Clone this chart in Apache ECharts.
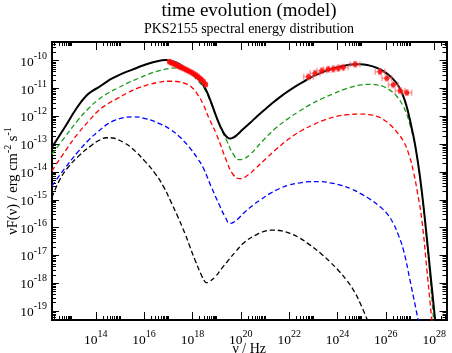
<!DOCTYPE html>
<html>
<head>
<meta charset="utf-8">
<script src="https://cdn.jsdelivr.net/npm/echarts@6/dist/echarts.min.js"></script>
<style>
  html, body { margin: 0; padding: 0; background: #fff; }
  #chart { width: 452px; height: 353px; }
</style>
</head>
<body>
<div id="chart"></div>
<script>
// all values are log10: [log nu (Hz), log nuF(nu) (erg cm^-2 s^-1)]
const totalCurve = [[12.19,-13.11],[12.7,-12.42],[13.2,-11.72],[13.6,-11.27],[13.9,-11.07],[14.11,-10.96],[14.4,-10.79],[14.66,-10.65],[15.0,-10.5],[15.49,-10.33],[16.04,-10.15],[16.59,-10.01],[16.9,-9.98],[17.28,-10.05],[17.7,-10.26],[18.1,-10.55],[18.45,-10.88],[18.73,-11.40],[19.0,-12.04],[19.28,-12.58],[19.45,-12.76],[19.56,-12.80],[19.68,-12.77],[19.83,-12.68],[20.1,-12.46],[20.38,-12.24],[20.7,-11.98],[21.07,-11.70],[21.4,-11.46],[21.76,-11.22],[22.2,-10.96],[22.59,-10.76],[23.0,-10.56],[23.42,-10.40],[23.8,-10.28],[24.24,-10.19],[24.6,-10.14],[24.94,-10.13],[25.3,-10.17],[25.63,-10.26],[25.9,-10.38],[26.18,-10.56],[26.4,-10.76],[26.59,-11.02],[26.78,-11.42],[26.93,-11.88],[27.07,-12.42],[27.21,-13.02],[27.42,-14.22],[27.62,-15.73],[27.83,-17.53],[28.06,-19.5]];
const greenCurve = [[12.19,-13.36],[12.73,-12.74],[13.28,-12.12],[13.7,-11.72],[14.11,-11.40],[14.5,-11.17],[14.94,-10.97],[15.35,-10.79],[15.76,-10.64],[16.2,-10.48],[16.59,-10.37],[17.0,-10.29],[17.42,-10.26],[17.8,-10.36],[18.2,-10.70],[18.5,-11.02],[18.8,-11.60],[19.1,-12.28],[19.42,-12.88],[19.69,-13.36],[19.94,-13.56],[20.15,-13.52],[20.4,-13.36],[20.93,-12.86],[21.4,-12.46],[21.9,-12.12],[22.4,-11.83],[22.87,-11.58],[23.35,-11.37],[23.83,-11.19],[24.25,-11.04],[24.66,-10.93],[25.0,-10.87],[25.35,-10.85],[25.65,-10.87],[25.9,-10.93],[26.2,-11.08],[26.45,-11.28],[26.7,-11.60],[26.87,-11.94],[27.0,-12.30],[27.14,-12.78],[27.28,-13.4],[27.42,-14.22],[27.7,-16.5],[27.99,-19.5]];
const redCurve = [[12.19,-13.96],[12.73,-13.26],[13.28,-12.6],[13.7,-12.18],[14.11,-11.80],[14.5,-11.55],[14.94,-11.34],[15.35,-11.14],[15.76,-10.98],[16.2,-10.86],[16.59,-10.78],[17.0,-10.74],[17.35,-10.75],[17.69,-10.82],[18.0,-10.98],[18.2,-11.2],[18.45,-11.58],[18.7,-12.1],[19.0,-12.66],[19.42,-13.62],[19.69,-14.10],[19.97,-14.24],[20.31,-14.10],[20.6,-13.88],[21.07,-13.50],[21.5,-13.16],[22.04,-12.78],[22.5,-12.52],[23.0,-12.30],[23.5,-12.12],[23.97,-12.0],[24.45,-11.94],[24.94,-11.92],[25.3,-11.94],[25.63,-12.0],[25.9,-12.12],[26.18,-12.30],[26.45,-12.56],[26.73,-12.90],[26.95,-13.36],[27.14,-13.98],[27.3,-14.7],[27.49,-15.73],[27.70,-17.53],[27.92,-19.5]];
const blueCurve = [[12.19,-14.5],[12.73,-13.86],[13.28,-13.26],[13.7,-12.86],[14.11,-12.54],[14.45,-12.3],[14.80,-12.14],[15.15,-12.05],[15.49,-12.02],[16.04,-12.08],[16.73,-12.30],[17.1,-12.48],[17.42,-12.70],[17.7,-12.94],[17.97,-13.22],[18.2,-13.5],[18.45,-13.86],[18.80,-14.58],[19.1,-15.16],[19.35,-15.61],[19.56,-15.85],[19.75,-15.78],[19.90,-15.67],[20.18,-15.43],[20.5,-15.2],[20.80,-15.01],[21.2,-14.78],[21.62,-14.59],[22.0,-14.47],[22.45,-14.39],[22.85,-14.35],[23.28,-14.35],[23.7,-14.39],[24.11,-14.47],[24.55,-14.6],[24.94,-14.77],[25.35,-14.98],[25.76,-15.25],[26.05,-15.5],[26.31,-15.85],[26.52,-16.27],[26.73,-16.81],[27.0,-17.89],[27.38,-19.5]];
const darkCurve = [[12.19,-14.92],[12.5,-14.3],[12.85,-13.84],[13.28,-13.44],[13.83,-13.04],[14.15,-12.86],[14.46,-12.77],[14.7,-12.78],[14.94,-12.85],[15.2,-12.96],[15.49,-13.14],[16.04,-13.62],[16.45,-14.05],[16.80,-14.52],[17.14,-15.13],[17.4,-15.62],[17.69,-16.21],[17.9,-16.7],[18.11,-17.17],[18.39,-17.75],[18.5,-17.92],[18.59,-17.98],[18.7,-17.94],[18.94,-17.77],[19.2,-17.48],[19.49,-17.17],[19.8,-16.85],[20.18,-16.51],[20.66,-16.25],[21.0,-16.13],[21.35,-16.09],[21.7,-16.12],[22.04,-16.21],[22.45,-16.38],[22.87,-16.63],[23.3,-16.92],[23.69,-17.23],[24.05,-17.55],[24.38,-17.89],[24.7,-18.3],[24.94,-18.72],[25.32,-19.5]];

// measured points (X-ray and gamma-ray)
const xrayNu   = [17.05,17.13,17.22,17.30,17.38,17.46,17.55,17.63,17.72,17.80,17.88,17.97,18.05,18.14,18.22,18.30,18.38,18.46,18.55];
const xrayFlux = [-10.04,-10.08,-10.11,-10.14,-10.18,-10.22,-10.25,-10.28,-10.32,-10.35,-10.39,-10.43,-10.47,-10.52,-10.57,-10.63,-10.69,-10.76,-10.86];
const gammaNu   = [22.80,23.07,23.35,23.62,23.83,24.04,24.24,24.73,25.76,26.04,26.31,26.59,26.87];
const gammaFlux = [-10.58,-10.45,-10.36,-10.31,-10.30,-10.27,-10.24,-10.13,-10.40,-10.63,-10.87,-11.08,-11.15];

const xLabelExps = [14,16,18,20,22,24,26,28];
const yLabelExps = [-19,-18,-17,-16,-15,-14,-13,-12,-11,-10];

const X_MIN = 12.19, X_MAX = 28.51;
const Y_MIN = -19.32, Y_MAX = -9.33;
const FONT = 'Liberation Serif';

// log-spaced minor ticks
const xMinor = [];
for (let n = 12; n <= 28; n += 2) {
  for (let k = 2; k <= 10; k++) {
    const v = n + Math.log10(k);
    if (v > X_MIN && v < X_MAX) xMinor.push(v);
  }
}
const yMinor = [];
for (let n = -20; n <= -10; n++) {
  for (let k = 2; k <= 9; k++) {
    const v = n + Math.log10(k);
    if (v > Y_MIN && v < Y_MAX) yMinor.push(v);
  }
}

const powLabel = v => '{b|10}{e|' + Math.round(v) + '}';
const labelRich = {
  b: { fontFamily: FONT, fontSize: 13.5, color: '#000', padding: [3, 0, 0, 0] },
  e: { fontFamily: FONT, fontSize: 10, color: '#000', padding: [0, 0, 9, 0] }
};

function makeAxis(dim, pos, ticks, len, labels) {
  const ax = {
    type: 'value', position: pos,
    min: dim === 'x' ? X_MIN : Y_MIN,
    max: dim === 'x' ? X_MAX : Y_MAX,
    axisLine: { show: true, onZero: false, lineStyle: { color: '#000', width: 2 } },
    axisTick: { show: true, inside: true, length: len, customValues: ticks, lineStyle: { color: '#000', width: 1 } },
    axisLabel: { show: false },
    splitLine: { show: false }
  };
  if (labels) {
    ax.axisLabel = {
      show: true, customValues: labels, formatter: powLabel, rich: labelRich,
      margin: dim === 'x' ? 9 : 5
    };
  }
  return ax;
}

const errorData = [];
xrayNu.forEach((nu, i) => errorData.push([nu, xrayFlux[i], 0.05, 0.07]));
gammaNu.forEach((nu, i) => errorData.push([nu, gammaFlux[i], 0.2, 0.1]));
const pointData = errorData.map(d => [d[0], d[1]]);

function renderErrorBar(params, api) {
  const x = api.value(0), y = api.value(1), dx = api.value(2), dy = api.value(3);
  const l = api.coord([x - dx, y]), r = api.coord([x + dx, y]);
  const t = api.coord([x, y + dy]), b = api.coord([x, y - dy]);
  const style = { stroke: 'rgba(245,90,90,0.55)', lineWidth: 1.5 };
  const seg = (x1, y1, x2, y2) => ({ type: 'line', shape: { x1, y1, x2, y2 }, style });
  return {
    type: 'group',
    children: [
      seg(l[0], l[1], r[0], r[1]),
      seg(t[0], t[1], b[0], b[1]),
      seg(l[0], l[1] - 3, l[0], l[1] + 3),
      seg(r[0], r[1] - 3, r[0], r[1] + 3),
      seg(t[0] - 2, t[1], t[0] + 2, t[1]),
      seg(b[0] - 2, b[1], b[0] + 2, b[1])
    ]
  };
}

function curve(data, color, dashed) {
  return {
    type: 'line', data: data, showSymbol: false, smooth: 0.5,
    clip: true, silent: true,
    lineStyle: { color: color, width: dashed ? 1.3 : 2, type: dashed ? [5, 3] : 'solid' }
  };
}

const chart = echarts.init(document.getElementById('chart'));

chart.setOption({
  animation: false,
  backgroundColor: '#fff',
  title: {
    text: 'time evolution (model)',
    subtext: 'PKS2155 spectral energy distribution',
    left: 249, top: 2, padding: 0, itemGap: 1, textAlign: 'center',
    textStyle: { fontFamily: FONT, fontSize: 19, fontWeight: 'normal', color: '#000' },
    subtextStyle: { fontFamily: FONT, fontSize: 14, color: '#000' }
  },
  grid: { left: 52, right: 5.5, top: 42, bottom: 33, containLabel: false, outerBoundsMode: 'none' },
  xAxis: [
    Object.assign(makeAxis('x', 'bottom', xLabelExps, 8, xLabelExps), {
      name: 'ν / Hz', nameLocation: 'middle', nameGap: 22, nameMoveOverlap: false,
      nameTextStyle: { fontFamily: FONT, fontSize: 14, color: '#000' }
    }),
    makeAxis('x', 'bottom', xMinor, 4),
    makeAxis('x', 'top', xLabelExps, 8),
    makeAxis('x', 'top', xMinor, 4)
  ],
  yAxis: [
    Object.assign(makeAxis('y', 'left', yLabelExps, 7, yLabelExps), {
      name: 'νF(ν) / erg cm{s|-2} s{s|-1}', nameLocation: 'middle', nameGap: 29, nameMoveOverlap: false,
      nameTextStyle: {
        fontFamily: FONT, fontSize: 14.5, color: '#000',
        rich: { s: { fontFamily: FONT, fontSize: 10, color: '#000', padding: [0, 0, 10, 0] } }
      }
    }),
    makeAxis('y', 'left', yMinor, 4),
    makeAxis('y', 'right', yLabelExps, 7),
    makeAxis('y', 'right', yMinor, 4)
  ],
  series: [
    curve(darkCurve, '#000000', true),
    curve(blueCurve, '#0000ff', true),
    curve(redCurve, '#ff0000', true),
    curve(greenCurve, '#1a9a1a', true),
    curve(totalCurve, '#000000', false),
    {
      type: 'custom', renderItem: renderErrorBar, data: errorData, silent: true, z: 5
    },
    {
      type: 'scatter', data: pointData, symbol: 'circle', symbolSize: 5, silent: true, z: 6,
      itemStyle: { color: '#ff0000' }
    }
  ]
});
</script>
</body>
</html>
